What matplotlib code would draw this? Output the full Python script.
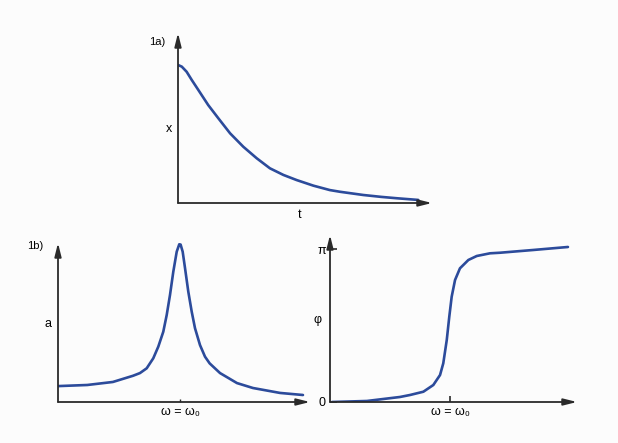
import numpy as np
import matplotlib
matplotlib.use("Agg")
import matplotlib.pyplot as plt

plt.rcParams['font.family'] = ['Liberation Sans', 'DejaVu Sans']

# 1a) decay: time vs displacement (arbitrary units)
t_vals = [0, 0.15, 0.34, 0.54, 0.8, 1.19, 1.59, 2.05, 2.57, 3.1, 3.62, 4.15,
          4.67, 5.33, 5.98, 6.38, 7.3, 8.0, 8.61, 9.46]
x_vals = [0.812, 0.802, 0.772, 0.724, 0.665, 0.576, 0.498, 0.41, 0.331,
          0.263, 0.204, 0.165, 0.135, 0.102, 0.076, 0.066, 0.047, 0.036,
          0.028, 0.018]

# 1b) amplitude resonance curve (omega in units of omega0)
w_amp = [0, 0.24, 0.45, 0.615, 0.672, 0.727, 0.781, 0.822, 0.863, 0.891,
         0.918, 0.945, 0.973, 0.994, 1.005, 1.022, 1.041, 1.068, 1.096,
         1.123, 1.164, 1.205, 1.243, 1.328, 1.467, 1.598, 1.82, 2.008]
a_vals = [0.10, 0.107, 0.126, 0.165, 0.182, 0.212, 0.275, 0.348, 0.442,
          0.547, 0.673, 0.819, 0.945, 0.992, 0.99, 0.945, 0.843, 0.694,
          0.568, 0.464, 0.358, 0.285, 0.243, 0.182, 0.119, 0.088, 0.057,
          0.044]

# phase curve
w_phi = [0.017, 0.308, 0.583, 0.667, 0.778, 0.861, 0.917, 0.944, 0.973,
         0.994, 1.014, 1.042, 1.083, 1.153, 1.223, 1.333, 1.417, 1.692, 1.983]
phi_vals = [0, 0.021, 0.103, 0.144, 0.211, 0.349, 0.554, 0.795, 1.273,
            1.751, 2.162, 2.505, 2.745, 2.916, 2.998, 3.053, 3.065, 3.121,
            3.183]

W, H = 618, 443
curve_col = '#2c4b9b'
axis_col = '#2a2a2a'

fig = plt.figure(figsize=(W/100, H/100), dpi=100)
fig.patch.set_facecolor('#fcfcfc')


def make_axes(x0, y0, x1, y1):
    # origin (x0,y0) and arrow tips (x1, y1) in pixels
    ax = fig.add_axes([x0/W, (H-y0)/H, (x1-x0)/W, (y0-y1)/H])
    ax.patch.set_alpha(0)
    for s in ax.spines.values():
        s.set_visible(False)
    arrow = dict(arrowstyle='-|>,head_length=0.8,head_width=0.2',
                 color=axis_col, lw=1.3, shrinkA=0, shrinkB=0)
    ax.annotate('', xy=(1, 0), xytext=(0, 0), xycoords='axes fraction',
                arrowprops=arrow, annotation_clip=False)
    ax.annotate('', xy=(0, 1), xytext=(0, 0), xycoords='axes fraction',
                arrowprops=arrow, annotation_clip=False)
    ax.set_xticks([])
    ax.set_yticks([])
    return ax


# panel 1a
ax1 = make_axes(178, 203, 432, 33)
ax1.plot(t_vals, x_vals, color=curve_col, lw=1.9, solid_capstyle='round')
ax1.set_xlim(0, 10)
ax1.set_ylim(0, 1)
ax1.text(0.48, -0.07, 't', transform=ax1.transAxes, ha='center', va='center', fontsize=9)
ax1.text(-0.035, 0.435, 'x', transform=ax1.transAxes, ha='center', va='center', fontsize=9)
ax1.text(-0.083, 0.947, '1a)', transform=ax1.transAxes, ha='center', va='center', fontsize=8)

# panel 1b amplitude
ax2 = make_axes(58, 402, 310, 243)
ax2.plot(w_amp, a_vals, color=curve_col, lw=1.9, solid_capstyle='round',
         solid_joinstyle='round')
ax2.set_xlim(0, 252/122)
ax2.set_ylim(0, 1)
ax2.set_xticks([1.0])
ax2.set_xticklabels(['ω = ω₀'])
ax2.tick_params(axis='x', direction='in', length=2.5, width=1, color=axis_col,
                pad=3, labelsize=9)
ax2.text(-0.04, 0.49, 'a', transform=ax2.transAxes, ha='center', va='center', fontsize=9)
ax2.text(-0.091, 0.98, '1b)', transform=ax2.transAxes, ha='center', va='center', fontsize=8)

# panel 1b phase
ax3 = make_axes(330, 402, 577, 235)
ax3.plot(w_phi, phi_vals, color=curve_col, lw=1.9, solid_capstyle='round',
         solid_joinstyle='round')
ax3.set_xlim(0, 247/120)
ax3.set_ylim(0, np.pi*167/153)
ax3.set_xticks([1.0])
ax3.set_xticklabels(['ω = ω₀'])
ax3.tick_params(axis='x', direction='in', length=4, width=1.2, color=axis_col,
                pad=3, labelsize=9)
ax3.set_yticks([0, np.pi])
ax3.set_yticklabels(['0', 'π'])
ax3.tick_params(axis='y', direction='in', length=5, width=1.2, color=axis_col,
                pad=3, labelsize=9)
ax3.text(-0.049, 0.49, 'φ', transform=ax3.transAxes, ha='center', va='center', fontsize=9)

fig.savefig('out.png', dpi=100, facecolor=fig.get_facecolor())
